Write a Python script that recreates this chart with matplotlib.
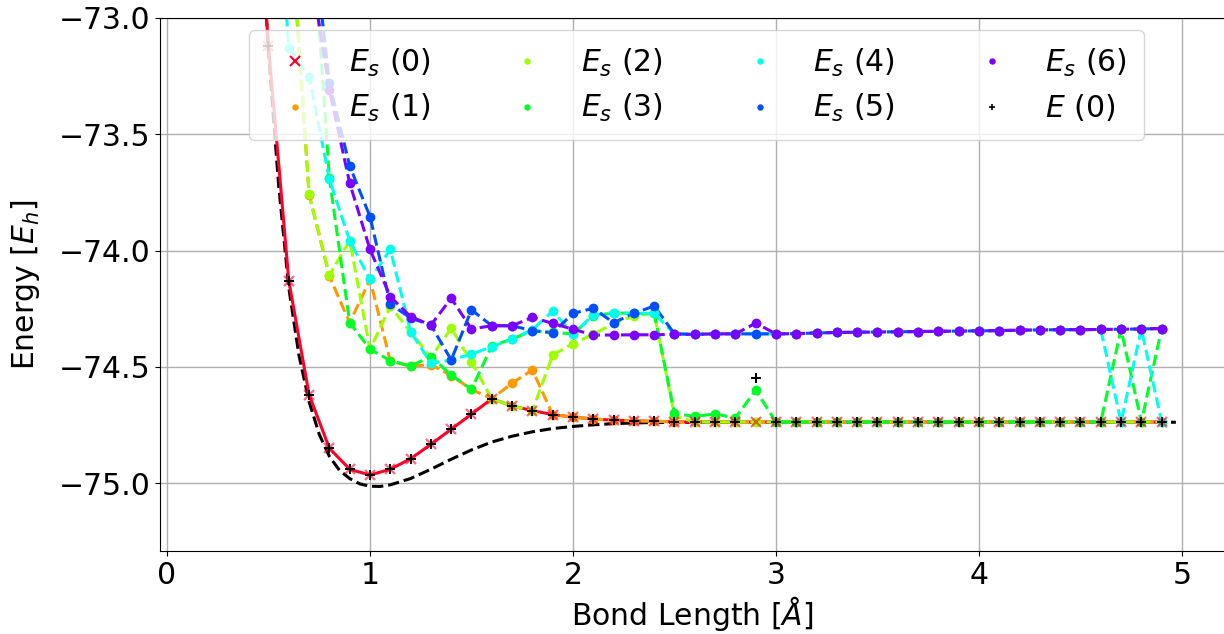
import numpy as np
import matplotlib
matplotlib.use("Agg")
import matplotlib.pyplot as plt
from matplotlib.lines import Line2D

# ---------------- data ----------------
bond = [0.4, 0.5, 0.6, 0.7, 0.8, 0.9, 1.0, 1.1, 1.2, 1.3, 1.4, 1.5, 1.6, 1.7, 1.8,
        1.9, 2.0, 2.1, 2.2, 2.3, 2.4, 2.5, 2.6, 2.7, 2.8, 2.9, 3.0, 3.1, 3.2, 3.3,
        3.4, 3.5, 3.6, 3.7, 3.8, 3.9, 4.0, 4.1, 4.2, 4.3, 4.4, 4.5, 4.6, 4.7, 4.8, 4.9]

es0 = [-71.9, -73.12, -74.13, -74.62, -74.85, -74.94, -74.965, -74.94, -74.895, -74.833,
       -74.768, -74.703, -74.637, -74.668, -74.688, -74.705, -74.716, -74.724, -74.729, -74.732,
       -74.734, -74.736, -74.737, -74.737, -74.737, -74.737, -74.737, -74.737, -74.737, -74.737,
       -74.737, -74.737, -74.737, -74.737, -74.737, -74.737, -74.737, -74.737, -74.737, -74.737,
       -74.737, -74.737, -74.737, -74.737, -74.737, -74.737]

es1 = [-70.5, -71.6, -72.5, -73.76, -74.11, -74.31, -74.124, -74.475, -74.497, -74.49,
       -74.537, -74.597, -74.637, -74.57, -74.513, -74.705, -74.716, -74.724, -74.729, -74.732,
       -74.734, -74.736, -74.737, -74.737, -74.737, -74.737, -74.737, -74.737, -74.737, -74.737,
       -74.737, -74.737, -74.737, -74.737, -74.737, -74.737, -74.737, -74.737, -74.737, -74.737,
       -74.737, -74.737, -74.737, -74.737, -74.737, -74.737]

es2 = [-70.6, -71.5, -72.45, -73.758, -74.105, -73.957, -74.424, -74.24, -74.35, -74.46,
       -74.334, -74.48, -74.637, -74.668, -74.688, -74.449, -74.40, -74.36, -74.313, -74.28,
       -74.27, -74.71, -74.737, -74.737, -74.737, -74.737, -74.737, -74.737, -74.737, -74.737,
       -74.737, -74.737, -74.737, -74.737, -74.737, -74.737, -74.737, -74.737, -74.737, -74.737,
       -74.737, -74.737, -74.737, -74.737, -74.737, -74.737]

es3 = [-70.0, -70.7, -71.5, -72.4, -73.69, -74.31, -74.424, -74.473, -74.496, -74.456,
       -74.535, -74.596, -74.41, -74.38, -74.345, -74.352, -74.358, -74.28, -74.268, -74.27,
       -74.27, -74.70, -74.713, -74.702, -74.72, -74.60, -74.737, -74.737, -74.737, -74.737,
       -74.737, -74.737, -74.737, -74.737, -74.737, -74.737, -74.737, -74.737, -74.737, -74.737,
       -74.737, -74.737, -74.737, -74.338, -74.737, -74.335]

es4 = [-70.5, -71.9, -73.13, -73.252, -73.694, -73.957, -74.124, -73.995, -74.348, -74.485,
       -74.47, -74.445, -74.413, -74.38, -74.34, -74.26, -74.358, -74.277, -74.267, -74.27,
       -74.27, -74.358, -74.36, -74.358, -74.358, -74.358, -74.358, -74.357, -74.354, -74.352,
       -74.351, -74.35, -74.349, -74.348, -74.347, -74.346, -74.345, -74.344, -74.342, -74.341,
       -74.34, -74.34, -74.339, -74.737, -74.337, -74.737]

es5 = [-69.5, -70.5, -71.6, -72.5, -73.28, -73.636, -73.854, -74.23, -74.29, -74.32,
       -74.47, -74.255, -74.323, -74.323, -74.344, -74.353, -74.27, -74.248, -74.31, -74.27,
       -74.238, -74.358, -74.36, -74.358, -74.358, -74.358, -74.358, -74.357, -74.354, -74.352,
       -74.351, -74.35, -74.349, -74.348, -74.347, -74.346, -74.345, -74.344, -74.342, -74.341,
       -74.34, -74.34, -74.339, -74.338, -74.337, -74.335]

es6 = [-69.0, -70.3, -71.5, -72.75, -73.31, -73.71, -73.995, -74.198, -74.284, -74.32,
       -74.205, -74.337, -74.323, -74.323, -74.287, -74.313, -74.338, -74.363, -74.363, -74.362,
       -74.362, -74.36, -74.36, -74.358, -74.358, -74.312, -74.358, -74.357, -74.354, -74.352,
       -74.351, -74.35, -74.349, -74.348, -74.347, -74.346, -74.345, -74.344, -74.342, -74.341,
       -74.34, -74.34, -74.339, -74.338, -74.337, -74.335]

e0 = [-71.9, -73.12, -74.13, -74.62, -74.85, -74.94, -74.965, -74.94, -74.895, -74.833,
      -74.768, -74.703, -74.637, -74.668, -74.688, -74.705, -74.716, -74.724, -74.729, -74.732,
      -74.734, -74.736, -74.737, -74.737, -74.737, -74.548, -74.737, -74.737, -74.737, -74.737,
      -74.737, -74.737, -74.737, -74.737, -74.737, -74.737, -74.737, -74.737, -74.737, -74.737,
      -74.737, -74.737, -74.737, -74.737, -74.737, -74.737]

# reference (dashed black) curve
ref_x = [0.45, 0.5, 0.55, 0.6, 0.65, 0.7, 0.75, 0.8, 0.85, 0.9, 0.95, 1.0, 1.05, 1.1,
         1.2, 1.3, 1.4, 1.5, 1.6, 1.7, 1.8, 1.9, 2.0, 2.1, 2.2, 2.3, 2.4, 2.6, 3.0,
         3.5, 4.0, 4.5, 4.97]
ref_e = [-72.4, -73.15, -73.72, -74.16, -74.45, -74.65, -74.79, -74.885, -74.945, -74.98,
         -75.003, -75.013, -75.014, -75.007, -74.98, -74.94, -74.897, -74.857, -74.823,
         -74.798, -74.779, -74.765, -74.756, -74.749, -74.744, -74.741, -74.739, -74.738,
         -74.738, -74.738, -74.738, -74.738, -74.738]

series = [es0, es1, es2, es3, es4, es5, es6]
labels = [r"$E_s$ (%d)" % i for i in range(7)] + [r"$E$ (0)"]

# ---------------- plot ----------------
plt.rcParams["font.size"] = 21.5
fig = plt.figure(figsize=(12.24, 6.34), dpi=100)
ax = fig.add_axes([160 / 1224, 1 - 551 / 634, 1065 / 1224, 533 / 634])

cmap = plt.get_cmap("gist_rainbow")
colors = [cmap(v) for v in np.linspace(0, 1, 8)[:-1]]

# lines (reference curve first, then states)
ax.plot(ref_x, ref_e, "--", color="black", lw=2.2, zorder=2)
ax.plot(bond, es0, "-", color=colors[0], lw=2.2, zorder=2)
for i in range(1, 7):
    ax.plot(bond, series[i], "--", color=colors[i], lw=2.2, zorder=2)

# markers
for i in range(1, 7):
    ax.plot(bond, series[i], ls="none", marker="o", ms=6, color=colors[i], zorder=3)
ax.plot(bond, es0, ls="none", marker="x", ms=7.5, mew=1.6, color=colors[0],
        alpha=0.6, zorder=4)
ax.plot(bond, e0, ls="none", marker="+", ms=7.5, mew=1.4, color="black", zorder=5)

ax.set_xlim(-0.0345, 5.212)
ax.set_ylim(-75.2915, -73.0)
ax.set_xticks([0, 1, 2, 3, 4, 5])
ax.set_yticks([-75.0, -74.5, -74.0, -73.5, -73.0])
ax.grid(True, color="#b0b0b0", lw=1)
ax.set_axisbelow(True)
ax.set_xlabel("Bond Length [$Å$]", labelpad=3)
ax.set_ylabel("Energy [$E_h$]", labelpad=12)

# legend handles (markers only)
leg_handles = [Line2D([], [], ls="none", marker="x", ms=7, mew=1.5, color=colors[0])]
for i in range(1, 7):
    leg_handles.append(Line2D([], [], ls="none", marker="o", ms=3.6, color=colors[i]))
leg_handles.append(Line2D([], [], ls="none", marker="+", ms=4.5, mew=1.2, color="black"))

ax.legend(leg_handles, labels, ncol=4, loc="upper left",
          bbox_to_anchor=(0.0837, 0.9775), borderaxespad=0,
          borderpad=0.55, labelspacing=0.45, columnspacing=2.23)

fig.savefig("out.png", dpi=100)
